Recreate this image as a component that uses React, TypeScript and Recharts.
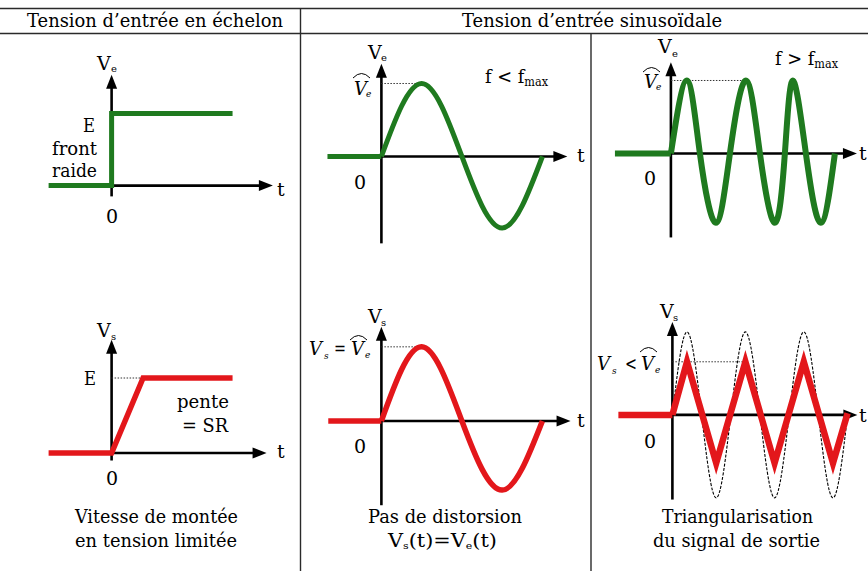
import React from "react";
import { LineChart, Line, XAxis, YAxis, ReferenceLine } from "recharts";

// step input: time in arbitrary units, voltage normalised to E
const stepT = [-1, 0, 0, 1.92];
const stepV = [0, 0, 1, 1];

// slew-rate limited answer to the step
const rampT = [-1, 0, 0.5, 1.92];
const rampV = [0, 0, 1, 1];

// low frequency sine, one period sampled every quarter
const slowT = [0, 1, 2, 3, 4];
const slowInV = [0, 1, 0, -0.98, 0];
const slowOutV = [0, 1.03, 0, -0.96, 0];

// high frequency sine input
const fastT = [0, 1.1, 2.0, 3.1, 4.07, 5.17, 6.14, 7.17, 7.86, 8.41, 9.31, 10.34, 11.31];
const fastV = [0, 1, 0, -0.95, 0, 1, 0, -0.95, 0, 1, 0, -0.95, 0];

// output when f > fmax: expected sine (dashed) and the triangle actually obtained
const idealT = [0, 1, 2, 3, 4, 5, 6, 7, 8, 9, 10, 11, 12];
const idealV = [0, 1, 0, -1, 0, 1, 0, -1, 0, 1, 0, -1, 0];
const triT = [0, 1, 3, 5, 7, 9, 11, 12];
const triV = [0, 0.64, -0.58, 0.64, -0.58, 0.64, -0.58, 0.02];

// zero level before t = 0
const restSlowT = [-1.34, 0];
const restSlowOutT = [-1.32, 0];
const restFastT = [-3.86, 0];
const restTriT = [-3.7, 0];

const zip = (t: number[], v: number[]) => t.map((x, i) => ({ t: x, v: v[i] }));
const rest = (t: number[]) => zip(t, t.map(() => 0));

const GREEN = "#1f7a1f";
const RED = "#e3171b";
const FONT = "'DejaVu Serif', serif";

type Box = {
  x0: number; y0: number; sx: number; sy: number;
  t: [number, number]; v: [number, number];
  yAxis: [number, number]; xTip: number;
};

const ArrowShape = (p: any) => {
  const { x1, y1, x2, y2 } = p;
  const dx = x2 - x1;
  const dy = y2 - y1;
  const len = Math.hypot(dx, dy) || 1;
  const ux = dx / len;
  const uy = dy / len;
  const L = 14;
  const W = 5.5;
  const bx = x2 - ux * L;
  const by = y2 - uy * L;
  return (
    <g>
      <line x1={x1} y1={y1} x2={bx + ux * 2} y2={by + uy * 2} stroke="#000" strokeWidth={2.6} />
      <polygon
        points={`${x2},${y2} ${bx - uy * W},${by + ux * W} ${bx + uy * W},${by - ux * W}`}
        fill="#000"
      />
    </g>
  );
};

function Panel({ box, children }: { box: Box; children: React.ReactNode }) {
  const left = box.x0 + box.sx * box.t[0];
  const top = box.y0 - box.sy * box.v[1];
  const width = box.sx * (box.t[1] - box.t[0]);
  const height = box.sy * (box.v[1] - box.v[0]);
  return (
    <div style={{ position: "absolute", left, top }}>
      <LineChart width={width} height={height} margin={{ top: 0, right: 0, bottom: 0, left: 0 }}>
        <XAxis type="number" dataKey="t" domain={box.t} hide />
        <YAxis type="number" domain={box.v} hide />
        <ReferenceLine segment={[{ x: 0, y: box.yAxis[0] }, { x: 0, y: box.yAxis[1] }]} shape={ArrowShape} />
        <ReferenceLine segment={[{ x: 0, y: 0 }, { x: box.xTip, y: 0 }]} shape={ArrowShape} />
        {children}
      </LineChart>
    </div>
  );
}

const dotted = { stroke: "#333", strokeWidth: 1, strokeDasharray: "1.5 1.5" };

function Txt({ x, y, size = 19, len, italic, anchor, children }: any) {
  return (
    <text
      x={x}
      y={y}
      fontSize={size}
      style={{ fontFamily: FONT }}
      fontStyle={italic ? "italic" : undefined}
      textAnchor={anchor}
      textLength={len}
      lengthAdjust={len ? "spacingAndGlyphs" : undefined}
    >
      {children}
    </text>
  );
}

const Hat = ({ x, y, w }: { x: number; y: number; w: number }) => (
  <path d={`M${x},${y + 6} Q${x + w / 2},${y - 3} ${x + w},${y + 6}`} fill="none" stroke="#000" strokeWidth={1} />
);

const stepBox: Box = { x0: 112, y0: 186, sx: 63, sy: 72, t: [-1.2, 2.8], v: [-0.4, 1.8], yAxis: [-0.15, 1.54], xTip: 2.56 };
const rampBox: Box = { x0: 112, y0: 453, sx: 63, sy: 75, t: [-1.2, 2.8], v: [-0.4, 1.8], yAxis: [-0.1, 1.51], xTip: 2.46 };
const slowBox: Box = { x0: 381, y0: 156, sx: 40.25, sy: 73, t: [-1.6, 5], v: [-1.4, 1.5], yAxis: [-1.19, 1.27], xTip: 4.62 };
const slowOutBox: Box = { x0: 381, y0: 421, sx: 40.25, sy: 72, t: [-1.6, 5], v: [-1.4, 1.5], yAxis: [-1.17, 1.31], xTip: 4.7 };
const fastBox: Box = { x0: 671, y0: 153, sx: 14.5, sy: 73, t: [-4.2, 13.2], v: [-1.4, 1.5], yAxis: [-1.15, 1.25], xTip: 12.83 };
const triBox: Box = { x0: 672, y0: 415, sx: 14.6, sy: 83, t: [-4, 13], v: [-1.2, 1.3], yAxis: [-1.02, 1.12], xTip: 12.67 };

const lineProps = { dataKey: "v", dot: false, activeDot: false, isAnimationActive: false } as const;

export default function App() {
  return (
    <div style={{ position: "absolute", left: 0, top: 0, width: 868, height: 571, background: "#fff", overflow: "hidden" }}>
      <Panel box={stepBox}>
        <Line {...lineProps} data={zip(stepT, stepV)} type="linear" stroke={GREEN} strokeWidth={5} />
      </Panel>

      <Panel box={rampBox}>
        <ReferenceLine segment={[{ x: 0, y: 1 }, { x: rampT[2], y: 1 }]} {...dotted} />
        <Line {...lineProps} data={zip(rampT, rampV)} type="linear" stroke={RED} strokeWidth={5.5} />
      </Panel>

      <Panel box={slowBox}>
        <ReferenceLine segment={[{ x: 0, y: slowInV[1] }, { x: slowT[1], y: slowInV[1] }]} {...dotted} />
        <Line {...lineProps} data={rest(restSlowT)} type="linear" stroke={GREEN} strokeWidth={5} />
        <Line {...lineProps} data={zip(slowT, slowInV)} type="natural" stroke={GREEN} strokeWidth={5} />
      </Panel>

      <Panel box={slowOutBox}>
        <ReferenceLine segment={[{ x: 0, y: slowOutV[1] }, { x: slowT[1], y: slowOutV[1] }]} {...dotted} />
        <Line {...lineProps} data={rest(restSlowOutT)} type="linear" stroke={RED} strokeWidth={5.5} />
        <Line {...lineProps} data={zip(slowT, slowOutV)} type="natural" stroke={RED} strokeWidth={5.5} />
      </Panel>

      <Panel box={fastBox}>
        <ReferenceLine segment={[{ x: 0, y: fastV[1] }, { x: fastT[5], y: fastV[1] }]} {...dotted} />
        <Line {...lineProps} data={rest(restFastT)} type="linear" stroke={GREEN} strokeWidth={6} />
        <Line {...lineProps} data={zip(fastT, fastV)} type="natural" stroke={GREEN} strokeWidth={6} />
      </Panel>

      <Panel box={triBox}>
        <ReferenceLine segment={[{ x: 0, y: triV[1] }, { x: triT[2] + 2, y: triV[1] }]} {...dotted} />
        <Line {...lineProps} data={zip(idealT, idealV)} type="natural" stroke="#000" strokeWidth={1.1} strokeDasharray="3 1.5" />
        <Line {...lineProps} data={rest(restTriT)} type="linear" stroke={RED} strokeWidth={6.5} />
        <Line {...lineProps} data={zip(triT, triV)} type="linear" stroke={RED} strokeWidth={6.5} />
      </Panel>

      <svg
        width={868}
        height={571}
        style={{ position: "absolute", left: 0, top: 0, pointerEvents: "none" }}
        fill="#000"
      >
        {/* table frame */}
        <g stroke="#2a2a2a" strokeWidth={1.4}>
          <line x1={0} y1={8.5} x2={868} y2={8.5} />
          <line x1={0} y1={33.5} x2={868} y2={33.5} />
          <line x1={300.5} y1={8.5} x2={300.5} y2={571} />
          <line x1={591} y1={33.5} x2={591} y2={571} />
        </g>
        <Txt x={27} y={27} size={18} len={256}>Tension d’entrée en échelon</Txt>
        <Txt x={462} y={27} size={18} len={260}>Tension d’entrée sinusoïdale</Txt>

        {/* step input */}
        <Txt x={97} y={70}>V</Txt>
        <Txt x={111} y={72} size={10}>e</Txt>
        <Txt x={83} y={132} len={12}>E</Txt>
        <Txt x={52} y={155} len={45}>front</Txt>
        <Txt x={52} y={177} len={45}>raide</Txt>
        <Txt x={112} y={223} anchor="middle">0</Txt>
        <Txt x={277} y={196}>t</Txt>

        {/* slow sine input */}
        <Txt x={368} y={59}>V</Txt>
        <Txt x={381} y={61} size={10}>e</Txt>
        <Hat x={353} y={72} w={17} />
        <Txt x={354} y={95} size={18} italic>V</Txt>
        <Txt x={366} y={97} size={9} italic>e</Txt>
        <Txt x={485} y={83} len={63}>
          f &lt; f<tspan fontSize={12} dy={3}>max</tspan>
        </Txt>
        <Txt x={360} y={189} anchor="middle">0</Txt>
        <Txt x={577} y={162}>t</Txt>

        {/* fast sine input */}
        <Txt x={658} y={53}>V</Txt>
        <Txt x={672} y={57} size={10}>e</Txt>
        <Hat x={643} y={66} w={17} />
        <Txt x={644} y={88} size={18} italic>V</Txt>
        <Txt x={656} y={90} size={9} italic>e</Txt>
        <Txt x={775} y={65} len={63}>
          f &gt; f<tspan fontSize={12} dy={3}>max</tspan>
        </Txt>
        <Txt x={650} y={185} anchor="middle">0</Txt>
        <Txt x={859} y={160}>t</Txt>

        {/* ramp output */}
        <Txt x={97} y={337}>V</Txt>
        <Txt x={111} y={340} size={10}>s</Txt>
        <Txt x={84} y={385} len={12}>E</Txt>
        <Txt x={177} y={408} len={52}>pente</Txt>
        <Txt x={182} y={432} len={46}>= SR</Txt>
        <Txt x={112} y={485} anchor="middle">0</Txt>
        <Txt x={277} y={458}>t</Txt>
        <Txt x={75} y={523} len={163}>Vitesse de montée</Txt>
        <Txt x={75} y={547} len={162}>en tension limitée</Txt>

        {/* undistorted output */}
        <Txt x={368} y={323}>V</Txt>
        <Txt x={381} y={326} size={10}>s</Txt>
        <Txt x={309} y={355} size={18} italic>V</Txt>
        <Txt x={324} y={359} size={9} italic>s</Txt>
        <Txt x={334} y={355} size={18} len={12}>=</Txt>
        <Hat x={350} y={334} w={17} />
        <Txt x={351} y={355} size={18} italic>V</Txt>
        <Txt x={365} y={358} size={9} italic>e</Txt>
        <Txt x={360} y={453} anchor="middle">0</Txt>
        <Txt x={577} y={427}>t</Txt>
        <Txt x={368} y={523} len={154}>Pas de distorsion</Txt>
        <text x={388} y={547} fontSize={19} style={{ fontFamily: FONT }} textLength={109} lengthAdjust="spacingAndGlyphs">
          V<tspan fontSize={10} dy={2}>s</tspan>
          <tspan dy={-2}>(t)=V</tspan>
          <tspan fontSize={10} dy={2}>e</tspan>
          <tspan dy={-2}>(t)</tspan>
        </text>

        {/* triangular output */}
        <Txt x={660} y={318}>V</Txt>
        <Txt x={673} y={321} size={10}>s</Txt>
        <Txt x={597} y={370} size={18} italic>V</Txt>
        <Txt x={612} y={374} size={9} italic>s</Txt>
        <Txt x={625} y={370} size={18} len={12}>&lt;</Txt>
        <Hat x={640} y={346} w={17} />
        <Txt x={641} y={370} size={18} italic>V</Txt>
        <Txt x={655} y={373} size={9} italic>e</Txt>
        <Txt x={650} y={448} anchor="middle">0</Txt>
        <Txt x={859} y={422}>t</Txt>
        <Txt x={662} y={523} len={151}>Triangularisation</Txt>
        <Txt x={653} y={547} len={167}>du signal de sortie</Txt>
      </svg>
    </div>
  );
}
